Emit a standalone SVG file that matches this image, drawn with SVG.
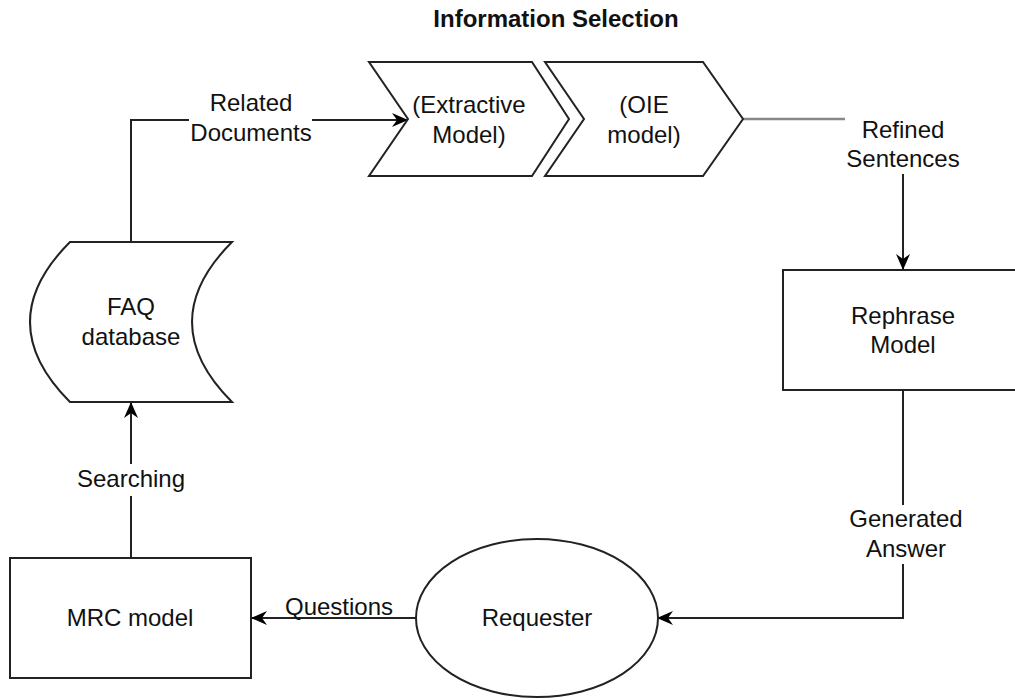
<svg xmlns="http://www.w3.org/2000/svg" width="1015" height="700" viewBox="0 0 1015 700">
  <defs>
    <marker id="arrow" markerUnits="userSpaceOnUse" markerWidth="18" markerHeight="16" viewBox="-1 -8 18 16" refX="16" refY="0" orient="auto">
      <path d="M0,-7 L16,0 L0,7 L5,0 Z" fill="#000"/>
    </marker>
  </defs>
  <style>
    .shape { fill: #fff; stroke: #222; stroke-width: 2; }
    .edge { fill: none; stroke: #222; stroke-width: 2; }
    .dim { fill: none; stroke: #888; stroke-width: 2.5; }
    text { font-family: "Liberation Sans", Arial, sans-serif; font-size: 24px; fill: #111; text-anchor: middle; }
    .title { font-weight: bold; }
  </style>

  <rect width="1015" height="700" fill="#fff"/>

  <text class="title" x="556" y="27">Information Selection</text>

  <!-- connectors -->
  <g id="connectors">
    <path class="edge" d="M131,242 V120 H189"/>
    <path class="edge" d="M312,120 H408" marker-end="url(#arrow)"/>
    <path class="dim" d="M743,119 H845"/>
    <path class="edge" d="M903,174 V270" marker-end="url(#arrow)"/>
    <path class="edge" d="M903,390 V505"/>
    <path class="edge" d="M903,564 V618 H657" marker-end="url(#arrow)"/>
    <path class="edge" d="M416,618 H251" marker-end="url(#arrow)"/>
    <path class="edge" d="M131,558 V496"/>
    <path class="edge" d="M131,464 V402" marker-end="url(#arrow)"/>
  </g>

  <!-- edge labels -->
  <g id="labels">
    <text x="251" y="111">Related</text>
    <text x="251" y="141">Documents</text>
    <text x="903" y="138">Refined</text>
    <text x="903" y="167">Sentences</text>
    <text x="906" y="527">Generated</text>
    <text x="906" y="557">Answer</text>
    <text x="339" y="615">Questions</text>
    <text x="131" y="487">Searching</text>
  </g>

  <g id="extractive">
    <path class="shape" d="M369,62 H532 L569,119 L532,176 H369 L408,119 Z"/>
    <text x="469" y="113">(Extractive</text>
    <text x="469" y="143">Model)</text>
  </g>

  <g id="oie">
    <path class="shape" d="M545,62 H703 L743,119 L703,176 H545 L584,119 Z"/>
    <text x="644" y="113">(OIE</text>
    <text x="644" y="143">model)</text>
  </g>

  <g id="rephrase">
    <rect class="shape" x="783" y="270" width="240" height="120"/>
    <text x="903" y="324">Rephrase</text>
    <text x="903" y="353">Model</text>
  </g>

  <g id="requester">
    <ellipse class="shape" cx="537" cy="618" rx="121" ry="79"/>
    <text x="537" y="626">Requester</text>
  </g>

  <g id="mrc">
    <rect class="shape" x="10" y="558" width="241" height="120"/>
    <text x="130" y="626">MRC model</text>
  </g>

  <g id="faq">
    <path class="shape" d="M70,242 H232 Q152,322 232,402 H70 Q-10,322 70,242 Z"/>
    <text x="131" y="315">FAQ</text>
    <text x="131" y="345">database</text>
  </g>
</svg>
